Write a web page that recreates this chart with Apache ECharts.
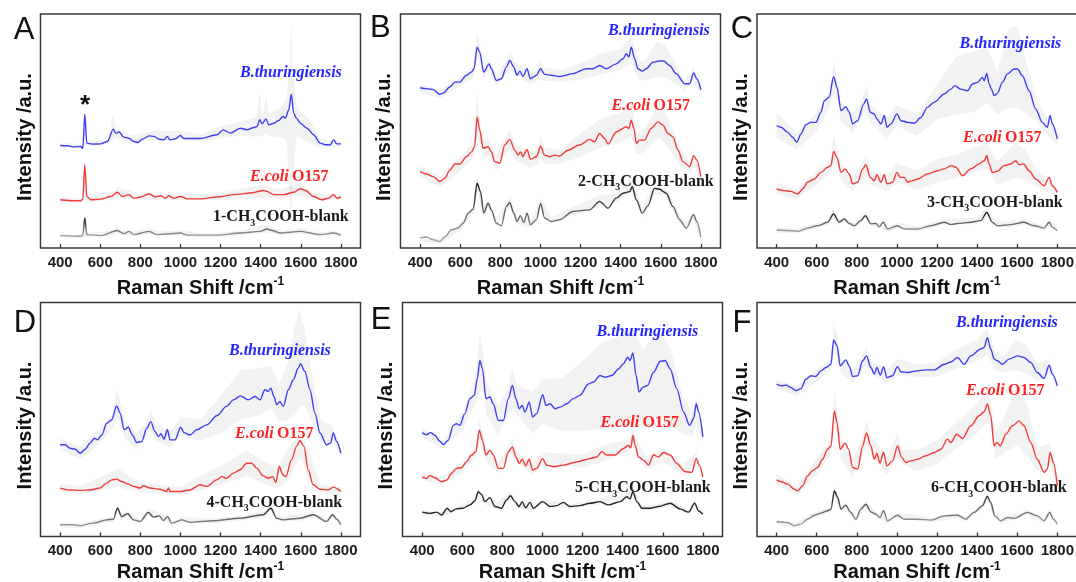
<!DOCTYPE html>
<html>
<head>
<meta charset="utf-8">
<script src="https://cdn.jsdelivr.net/npm/echarts@6/dist/echarts.min.js"></script>
<style>
html,body{margin:0;padding:0;background:#fff;}
#main{width:1076px;height:582px;}
</style>
</head>
<body>
<div id="main"></div>
<script>
// x tick labels (Raman shift, cm-1)
var ramanTicks=[400,600,800,1000,1200,1400,1600,1800];
var panelNames=['A','B','C','D','E','F'];
var blankNames=['1','2','3','4','5','6'];

// ---- panel A ----
var bluA=[[400,43.8],[436,43.7],[470,43.2],[503,43.4],[513,42.5],[523,57.2],[533,44.8],[561,44.4],[602,44.5],[636,45.5],[665,50.8],[677,49.1],[694,49.6],[718,47.4],[743,46.9],[768,45.5],[788,45.1],[810,46.5],[843,47.9],[868,47.7],[893,46.5],[918,46.2],[934,47.7],[947,46.2],[976,46.7],[1000,48.1],[1017,46.8],[1100,46.8],[1183,48.4],[1213,50.5],[1249,49.1],[1299,51.2],[1332,50.5],[1366,51.5],[1382,51.9],[1395,54.8],[1407,53.1],[1427,55.2],[1440,52.6],[1465,53.3],[1490,54.5],[1512,56.2],[1523,55.5],[1540,59.0],[1553,65.7],[1565,57.6],[1578,55.5],[1598,53.3],[1631,51.2],[1664,48.4],[1697,44.8],[1722,44.1],[1747,44.1],[1764,46.2],[1780,44.5],[1800,44.5]];
var redA=[[400,20.6],[470,20.2],[503,20.2],[513,20.9],[523,35.6],[533,22],[553,20.6],[602,20.9],[652,22],[685,23.8],[710,22],[743,22.8],[768,21.3],[801,21.8],[843,23.2],[876,21.8],[901,22.3],[926,21.3],[942,22.3],[967,21.2],[1000,22],[1034,21],[1100,21],[1183,21.8],[1266,22.8],[1349,23.5],[1415,24.6],[1432,24.2],[1465,22.8],[1515,22.8],[1565,23.8],[1598,25.3],[1623,24.6],[1664,22],[1705,20.6],[1739,21.3],[1764,22.8],[1780,21.3],[1800,21.8]];
var blkA=[[400,5.3],[503,5],[513,5.6],[523,12.8],[533,5.7],[602,5.3],[685,7.5],[718,6.1],[743,7.1],[768,5.7],[843,7.1],[884,5.7],[934,6],[1000,6.4],[1034,5.5],[1183,5.5],[1299,6.4],[1399,7.1],[1432,8.1],[1457,7.5],[1498,6.4],[1598,7.1],[1697,5.7],[1764,6.4],[1800,5.5]];
var bluBandA=[[400,42.8,44.8],[510,42.5,44.5],[523,44,58.5],[535,43.5,45.5],[640,44.5,46.5],[662,46,57],[680,47,51],[760,44.5,48],[860,46,50],[1000,46,50],[1100,45.5,48.5],[1200,47,52],[1300,48,54],[1380,47.5,56],[1395,48,67],[1410,48,56],[1427,49,65],[1440,48,57],[1500,47,60],[1530,46,64],[1545,20,80],[1553,7,98],[1560,30,75],[1580,48,60],[1640,45,55],[1700,43,46.5],[1800,43.5,45.5]];
var redBandA=[[400,19.6,21.6],[510,19.3,21.3],[523,21,37],[535,20,23],[660,20.5,24],[690,21.5,26],[800,20.5,23],[1000,20.5,23],[1200,20.5,23.5],[1400,21.5,27],[1440,21.5,26],[1500,21,25],[1600,22.5,28],[1660,20.5,23.5],[1800,20.5,22.8]];
var blkBandA=[[400,4.5,6],[510,4.2,5.8],[518,4.5,7],[523,5,13.5],[530,4.7,7],[540,4.7,6.5],[660,5.3,7.2],[685,6.3,9],[720,5.2,7.2],[760,5,7],[843,6,8.5],[900,5,7],[1000,5.3,7.5],[1100,4.6,6.4],[1200,4.6,6.4],[1300,5.3,7.5],[1430,6.5,10],[1500,5.5,7.5],[1600,6,8.3],[1700,4.8,6.6],[1764,5.4,7.3],[1800,4.6,6.4]];

// ---- panel B ----
var bluB=[[400,68.5],[432,68.1],[465,67.7],[498,65.7],[515,66.2],[548,68.8],[573,70.9],[598,70.9],[631,73.8],[656,75.2],[669,76.6],[684,85.8],[697,83.7],[717,75.2],[744,78.7],[755,76.6],[780,71.6],[805,72.3],[830,77.3],[847,80.1],[867,77.3],[883,73.8],[897,75.6],[913,73.3],[933,76.6],[950,72.3],[963,73],[980,73.8],[1001,76.6],[1021,74.2],[1054,73.8],[1096,73.3],[1162,74.5],[1229,76.6],[1262,76.6],[1295,78],[1329,76.6],[1378,78.7],[1412,80.9],[1428,83],[1441,81.6],[1453,85.8],[1470,80.9],[1486,76.6],[1508,75.6],[1528,76.6],[1561,79.4],[1594,79.9],[1614,79.9],[1644,78],[1677,74.5],[1719,70.2],[1744,70.2],[1764,74.8],[1780,72.3],[1800,67.7]];
var redB=[[400,32.6],[432,31.6],[465,30.5],[498,28.4],[523,29.8],[548,33.3],[573,35.9],[598,35.9],[631,39],[656,41.1],[672,43.3],[684,56],[697,50.4],[714,42.6],[739,43.3],[755,41.1],[772,36.9],[797,36.2],[822,44],[847,46.4],[872,41.8],[889,39.7],[900,41.1],[913,39],[933,42.1],[950,37.9],[980,39],[1001,43.5],[1021,39.7],[1046,39],[1071,39.7],[1096,39.3],[1137,41.8],[1195,44],[1245,46.4],[1270,45.4],[1295,48.9],[1320,46.8],[1337,44.4],[1378,49.6],[1428,51.8],[1441,51.1],[1453,54.6],[1466,51.1],[1478,44.7],[1494,46.1],[1519,46.1],[1552,51.1],[1586,53.9],[1611,52.5],[1636,48.9],[1661,47.5],[1686,41.8],[1711,36.9],[1744,34.8],[1764,39.3],[1780,37.6],[1800,30.5]];
var blkB=[[400,4.3],[432,4.7],[465,3.5],[498,2.8],[523,4.7],[556,7.8],[589,8.5],[614,10.6],[640,14.9],[665,16.6],[684,27.7],[701,24.1],[717,14.9],[739,19.1],[755,16.3],[780,10.6],[805,9.5],[830,17.7],[847,19.4],[867,14.9],[883,11.3],[900,13.8],[917,10.9],[933,14.9],[950,9.9],[980,12.1],[1001,18.9],[1021,12.8],[1054,11.3],[1096,12.1],[1162,15.6],[1245,16.3],[1295,19.9],[1337,17],[1378,21.3],[1412,23.4],[1445,24.1],[1458,26.2],[1478,20.6],[1508,14.9],[1536,18],[1569,25.5],[1594,25.1],[1627,23.4],[1661,17.7],[1694,12.1],[1727,8.5],[1764,14.2],[1780,11.3],[1800,4.7]];
var bluBandB=[[400,66.5,70],[500,64,67.5],[600,69,73],[665,73,78],[684,80,91.5],[700,80,87],[717,72.5,78],[744,76,81],[780,69,74],[830,74.5,80],[847,76,84],[870,74.5,80],[950,70,75],[985,71.5,76],[1001,73.5,80],[1020,71.5,77],[1100,71,76],[1200,72,79],[1300,74,83],[1400,76,85],[1453,79,90],[1490,72,80],[1520,71.5,80],[1580,73,88],[1620,73,87],[1680,70,78],[1720,67.5,72],[1764,72,77],[1800,65.5,69.5]];
var redBandB=[[400,30,35],[500,26,30.5],[600,33,39],[665,38.5,45],[684,48,67],[700,45,54],[717,38,46],[740,40,46],[780,33,40],[822,40,47],[847,42,51],[872,38,45],[950,34,41],[985,35.5,42],[1001,38.5,48],[1020,36,43],[1100,36,42],[1200,39,49],[1300,43,55],[1400,45,58],[1453,48,62],[1480,40,49],[1520,41,51],[1590,47,62],[1640,43,55],[1700,35,42],[1750,32,37],[1764,36,42],[1800,28,32]];
var blkBandB=[[400,3,5.5],[500,1.8,4],[600,7.5,10.5],[665,15,18.5],[684,24,31],[717,13,17],[739,17.5,21],[780,9,12.5],[847,17.5,22],[883,10,13],[950,8.5,11.5],[1001,17,21.5],[1054,10,13],[1162,14,17.5],[1295,18,22.5],[1378,19.5,23.5],[1458,24,29.5],[1508,13,17],[1569,23.5,28],[1627,21.5,25.5],[1694,10.5,14],[1727,7,10],[1764,12.5,16],[1800,3.5,6]];

// ---- panel C ----
var bluC=[[400,52.3],[422,51.6],[455,49.4],[480,47.3],[501,45.2],[521,48.7],[546,52.7],[571,53.7],[596,53.7],[621,58],[638,63],[662,64.4],[684,73.2],[701,68.7],[721,58.7],[745,60.4],[762,58],[779,53],[804,54.4],[834,61.5],[848,63.7],[867,58],[887,57.3],[900,55.1],[920,53],[937,56.6],[950,51.6],[970,53],[1000,57.3],[1020,54.4],[1053,53.7],[1086,53.3],[1119,55.8],[1152,60.1],[1186,62.3],[1236,65.8],[1269,67.9],[1289,69.4],[1318,67.9],[1352,67.2],[1377,70.1],[1402,70.8],[1426,72.9],[1435,71.5],[1448,74.6],[1460,70.1],[1471,67.9],[1485,65.1],[1501,66.1],[1526,70.8],[1551,74.4],[1584,76.5],[1601,76.5],[1626,73.6],[1659,67.2],[1692,59.4],[1725,53.7],[1750,51.6],[1764,56.6],[1775,53],[1800,46.6]];
var redC=[[400,25.2],[438,24.5],[471,24.2],[505,23.1],[530,25.2],[554,28.1],[588,29.5],[621,32.3],[654,34.5],[671,35.2],[684,41.3],[701,38.7],[721,32.3],[742,33.8],[762,31.6],[779,27.4],[804,28.1],[829,33.8],[845,35.6],[867,30.2],[887,28.8],[900,31.3],[920,28.1],[937,31.3],[950,27.4],[978,28.1],[1000,32.3],[1016,30.2],[1036,30.2],[1053,28.1],[1078,28.8],[1103,29.5],[1152,31.6],[1202,33],[1236,33.8],[1269,35.2],[1294,34.5],[1327,30.9],[1368,33.8],[1410,35.9],[1435,37.3],[1448,39.5],[1460,35.9],[1476,32.3],[1501,32.8],[1534,35.2],[1568,35.9],[1592,37.3],[1609,35.6],[1631,35.9],[1659,33],[1692,29.5],[1734,26.6],[1759,30.2],[1775,26.6],[1800,23.8]];
var blkC=[[400,7.7],[471,7.4],[505,7.1],[554,8.5],[604,9.5],[654,11],[684,14.5],[712,11],[737,12.4],[762,10.5],[787,9.5],[820,11.7],[842,13.8],[870,10.3],[895,10.5],[912,9.1],[932,11],[953,8.1],[1003,9.5],[1036,8.1],[1103,8.1],[1169,9.5],[1236,11],[1269,10],[1302,10.5],[1368,11],[1418,11.7],[1448,15.2],[1476,11],[1501,9.5],[1568,10],[1634,11],[1684,9.5],[1734,8.5],[1759,11],[1775,8.8],[1800,7.4]];
var bluBandC=[[400,47,58],[500,42,49],[600,50,58],[665,60,67],[684,66,80],[705,63,71],[720,54,62],[780,49,58],[825,56,63],[848,58,70],[870,53,61],[950,47,56],[1000,52,61],[1100,48,57],[1200,55,70],[1300,57,82],[1380,58,84],[1448,62,86],[1500,57,75],[1560,60,94],[1600,60,95],[1650,57,78],[1700,54,63],[1750,48,55],[1800,44,49]];
var redBandC=[[400,23,28],[500,21,25],[600,27,33],[665,32,37],[684,36,48],[705,34,41],[720,29,36],[780,24,30],[825,30,36],[845,32,40],[870,27,33],[950,24,31],[1000,28,36],[1100,25,33],[1200,28,38],[1300,30,40],[1448,34,45],[1500,27,37],[1590,30,45],[1640,29,42],[1700,26,33],[1800,22,25.5]];
var blkBandC=[[400,6.6,8.8],[500,6.2,8.2],[600,8.3,10.6],[660,9.8,12.2],[684,12.8,16.5],[710,9.8,12.3],[737,11,13.8],[787,8.3,10.7],[842,12.3,15.5],[880,9.2,11.6],[953,7,9.2],[1003,8.3,10.8],[1100,7,9.2],[1236,9.8,12.3],[1400,10.3,13],[1448,13.5,17.5],[1480,9.8,12.3],[1550,8.8,11.2],[1634,9.8,12.3],[1734,7.4,9.6],[1759,9.8,12.3],[1800,6.3,8.5]];

// ---- panel D ----
var bluD=[[400,39.2],[425,39.2],[450,37.7],[475,37.3],[500,35.6],[525,37.3],[549,39.9],[571,42],[586,41.3],[608,43.4],[632,48.4],[657,49.9],[682,55.8],[699,52.7],[719,45.6],[740,46.7],[760,43.4],[782,40.2],[807,40.6],[832,46.3],[852,49.1],[873,44.9],[890,42.7],[903,43.9],[918,41.6],[935,45.6],[948,41.3],[973,41.3],[1001,46.7],[1018,44.4],[1048,43.4],[1081,45.6],[1131,47.7],[1181,51.6],[1230,55.6],[1264,58.4],[1300,60.1],[1338,58.4],[1372,59.8],[1397,58.4],[1421,62.7],[1438,62],[1451,63.4],[1466,59.8],[1480,56.3],[1496,57.7],[1513,55.6],[1538,62.7],[1563,67],[1587,71.9],[1599,73.8],[1621,70.5],[1646,62.7],[1671,52.7],[1696,44.2],[1729,39.2],[1749,39.9],[1762,44.2],[1779,40.6],[1800,35.6]];
var redD=[[400,20.7],[450,19.9],[500,19.7],[549,19.9],[599,20.7],[632,22.8],[657,24.2],[682,24.5],[707,23.5],[740,22.4],[765,21.4],[799,20.7],[815,21.7],[848,20.7],[898,20.2],[932,19.2],[940,20.7],[948,19.2],[998,19.2],[1048,19.9],[1098,22.1],[1131,21.4],[1181,24.2],[1206,25.6],[1230,24.9],[1264,27.1],[1297,28.5],[1330,31.3],[1355,31.3],[1380,29.2],[1413,25.9],[1438,24.9],[1460,25.6],[1476,23.1],[1493,29.9],[1510,26.4],[1526,25.6],[1554,32.8],[1579,38.5],[1596,41],[1616,38.5],[1637,28.5],[1662,22.1],[1696,20.2],[1737,19.9],[1762,21.1],[1800,19.2]];
var blkD=[[400,5],[466,5],[500,4.6],[566,5.7],[632,7.1],[666,7.4],[686,12.1],[707,8.5],[737,9.7],[765,7.1],[799,6.4],[840,10.3],[865,8.3],[895,8.8],[915,6.8],[936,8.5],[956,5.7],[1006,7.1],[1048,6.1],[1164,6.7],[1297,7.8],[1413,9.3],[1451,12.1],[1480,7.8],[1513,7.1],[1596,7.8],[1662,9.3],[1729,6.4],[1759,9.3],[1779,7.4],[1800,5]];
var bluBandD=[[400,37,42],[500,33,38.5],[600,40,46],[660,46,52],[682,51,63],[705,48,56],[720,42,50],[780,37,44],[830,43,49],[852,45,54],[875,41,48],[950,38,45],[1000,43,51],[1100,41,50],[1200,44,60],[1300,50,71],[1400,52,72],[1451,55,73],[1490,49,65],[1540,50,75],[1570,52,90],[1595,55,97],[1620,56,88],[1650,50,72],[1700,40,50],[1760,41,47],[1800,34,38]];
var redBandD=[[400,19,22.5],[500,18,21.5],[640,20.5,27],[690,21,29],[800,19,23],[1000,17.5,21],[1100,19.5,26],[1200,22,30],[1330,26,37],[1400,23,33],[1480,20.5,29],[1540,24,38],[1596,34,44],[1640,25,37],[1700,18.5,22],[1800,17.5,21]];
var blkBandD=[[400,4,6],[500,3.6,5.6],[632,6,8.2],[666,6.3,8.6],[686,10.5,14],[707,7.4,9.7],[737,8.5,11],[799,5.4,7.4],[840,9,12],[900,7.5,10],[956,4.7,6.7],[1006,6,8.2],[1164,5.7,7.7],[1297,6.7,9],[1413,8,10.8],[1451,10.5,14],[1480,6.7,9],[1596,6.7,9.3],[1662,8,10.8],[1729,5.4,7.4],[1759,8,10.8],[1800,4,6]];

// ---- panel E ----
var bluE=[[400,44.4],[422,43.5],[442,44.4],[463,43.3],[488,40.7],[505,39.3],[530,41.1],[555,47.5],[571,48.2],[588,47.5],[613,52.5],[638,58.9],[660,60.3],[675,67.4],[688,75.2],[701,71.6],[718,58.9],[738,59.6],[755,56.7],[780,49.6],[805,49.6],[830,58.9],[850,64.5],[868,58.9],[884,54.6],[899,56],[913,53.2],[934,57.4],[951,51.1],[971,52.5],[1001,60.6],[1018,56],[1038,56.7],[1063,54.6],[1088,55.3],[1121,56.7],[1154,58.9],[1187,60.3],[1229,65.2],[1254,66],[1287,68.8],[1312,68.1],[1346,68.8],[1379,71.6],[1404,73.8],[1425,76.6],[1437,75.2],[1451,78.4],[1467,68.8],[1482,61.7],[1501,63.8],[1524,64.5],[1554,70.2],[1587,74.8],[1612,75.2],[1637,71.6],[1670,63.1],[1704,53.2],[1734,47.5],[1754,50.4],[1767,56.7],[1779,53.2],[1800,42.6]];
var redE=[[400,25.5],[422,24.8],[438,26],[463,25.1],[497,23.4],[522,24.1],[547,27],[571,29.1],[596,29.4],[621,31.9],[646,34.8],[668,36.2],[685,45.4],[701,41.1],[718,34.8],[738,36.9],[755,34.8],[780,29.1],[805,29.1],[830,36.2],[850,38.3],[868,34],[884,31.2],[899,33],[916,30.2],[934,33],[951,28.4],[971,29.1],[1001,33.3],[1021,30.5],[1055,29.8],[1104,30.5],[1171,31.9],[1237,33.3],[1271,34],[1296,36.2],[1321,34.8],[1362,34.8],[1404,37.6],[1429,39],[1441,37.9],[1451,43.3],[1462,39],[1479,34],[1504,32.6],[1529,30.5],[1554,34.8],[1579,34],[1604,35.9],[1637,34.8],[1670,31.2],[1712,27.7],[1745,27.4],[1767,33.3],[1782,30.5],[1800,25.5]];
var blkE=[[400,10.4],[438,9.9],[472,10.4],[497,9.2],[525,12.1],[542,10.6],[571,11.8],[605,12.1],[638,13.5],[663,15.2],[680,19.1],[696,18],[713,14.9],[738,16.6],[763,12.8],[796,12.1],[821,15.6],[841,17.4],[863,14.9],[883,12.8],[899,14.9],[916,12.3],[938,14.6],[954,12.1],[1001,14.9],[1038,12.8],[1071,13.2],[1104,14.6],[1138,12.8],[1187,13.2],[1237,14.2],[1287,14.9],[1329,13.5],[1387,14.9],[1421,17],[1437,16],[1451,19.1],[1471,14.9],[1496,12.1],[1537,12.1],[1579,12.8],[1637,14.2],[1687,11.8],[1729,10.4],[1759,14.2],[1779,10.9],[1800,9.5]];
var bluBandE=[[400,42.5,46],[500,37.5,41],[600,45,53],[660,56,66],[688,62,86],[705,62,78],[720,52,66],[780,43,56],[830,53,64],[850,54,72],[875,52,64],[950,44,62],[1001,48,67],[1100,45,68],[1200,45,75],[1300,46,83],[1400,47,86],[1451,48,90],[1500,46,80],[1580,47,88],[1640,47,80],[1700,44,60],[1750,43,53],[1767,48,60],[1800,40,45]];
var redBandE=[[400,24,27],[500,22,25.5],[600,27.5,32],[668,34,38.5],[685,40,50],[703,38,44],[720,32,37.5],[780,27,31.5],[830,34,38.5],[850,35,42],[870,32,36.5],[950,26.5,31],[1001,30.5,36],[1200,29.5,35],[1300,32,39],[1430,36.5,41.5],[1451,39,47],[1470,34,41],[1520,28.5,34],[1600,32,38],[1700,26,31],[1767,31,36],[1800,24,27]];
var blkBandE=[[400,9.5,11.3],[497,8.3,10.1],[571,10.8,12.8],[663,14,16.5],[680,17.5,21],[713,13.8,16],[763,11.7,13.9],[841,16,19],[883,11.7,13.9],[954,11,13.2],[1001,13.8,16],[1138,11.7,13.9],[1287,13.8,16],[1421,15.8,18.3],[1451,17.5,21],[1496,11,13.2],[1579,11.7,13.9],[1637,13,15.4],[1729,9.3,11.5],[1759,13,15.4],[1800,8.5,10.5]];

// ---- panel F ----
var bluF=[[400,65.1],[422,64.4],[447,64.7],[471,63.7],[496,62.3],[521,63.2],[546,67.2],[571,68.7],[596,68.4],[621,70.8],[646,72.2],[671,73.6],[684,84],[701,81.5],[717,72.9],[745,75.5],[762,72.9],[779,68.4],[804,68.7],[829,75.1],[848,77.2],[870,72.2],[887,69.4],[900,72.2],[917,68.9],[933,72.6],[950,67.9],[978,68.7],[1003,72.6],[1020,70.4],[1053,70.1],[1103,70.8],[1144,71.2],[1186,71.2],[1236,73.6],[1269,74.6],[1302,76.5],[1335,73.6],[1368,77.2],[1418,80.1],[1435,80.8],[1451,85],[1468,80.1],[1485,75.8],[1501,75.1],[1526,73.6],[1559,75.8],[1601,77.2],[1634,76.5],[1667,74.4],[1700,70.1],[1734,67.5],[1759,73.2],[1775,69.4],[1800,64.4]];
var redF=[[400,24.2],[422,23.4],[455,22.4],[488,20.2],[505,19.5],[530,21.7],[554,25.9],[579,28.1],[604,29.5],[629,33],[654,37.3],[671,38.7],[688,53.7],[701,48.7],[717,37.3],[742,39.9],[759,37.3],[779,29.5],[804,28.8],[829,38.7],[848,44.2],[870,38.7],[887,33],[900,35.6],[915,31.3],[933,35.9],[950,30.2],[978,32.3],[1003,38.7],[1023,33.8],[1044,31.6],[1069,32.3],[1103,33],[1144,34.5],[1186,35.9],[1219,37.3],[1252,41.6],[1269,40.2],[1298,43.7],[1327,41.9],[1368,47.3],[1410,51.6],[1435,53.3],[1451,56.6],[1468,51.6],[1485,38.7],[1498,40.2],[1515,38.7],[1543,43.7],[1576,47.3],[1609,49.4],[1634,47.3],[1667,40.2],[1700,33],[1734,27.4],[1750,28.8],[1764,35.9],[1780,31.6],[1800,21.7]];
var blkF=[[400,6.3],[455,6],[488,4.6],[521,5.3],[554,7.4],[588,9.1],[621,10],[654,11],[671,11.7],[688,19.5],[704,16.7],[721,11.7],[745,13.4],[767,10.5],[795,7.4],[820,11.7],[845,13.8],[870,10.5],[895,9.5],[915,8.1],[933,11],[953,6.7],[1003,9.1],[1036,7.4],[1103,7.4],[1169,7],[1236,8.8],[1302,9.1],[1343,7.4],[1385,10.3],[1426,13.1],[1451,17.1],[1468,14.5],[1488,8.8],[1518,6.7],[1551,8.1],[1584,7.7],[1651,10.3],[1700,8.8],[1734,6.7],[1762,10.3],[1780,7.4],[1800,5.3]];
var bluBandF=[[400,63,67],[500,60,64.5],[600,66,71],[670,71,76],[684,78,91],[703,77,86],[720,70,76],[780,65.5,71],[829,72,78],[848,73,81],[870,69.5,75],[950,65,71],[1003,69,76],[1100,68,73.5],[1200,68.5,74.5],[1300,72,80],[1400,75,84],[1451,78,89],[1490,71,79],[1530,70,77],[1590,71,84],[1640,70,82],[1700,66,74],[1760,70,76],[1800,62.5,66]];
var redBandF=[[400,22,26.5],[500,17.5,21.5],[600,26.5,33],[670,35,42],[688,46,62],[703,44,54],[720,33,42],[780,25.5,33],[829,35,43],[848,39,50],[870,35,43],[950,26.5,34],[1003,34,44],[1025,31,37],[1100,28,37],[1200,31,41],[1300,38,49],[1400,44,57],[1451,49,63],[1470,46,57],[1490,33,44],[1540,36,52],[1600,39,66],[1650,34,56],[1700,28,38],[1764,31,40],[1800,19,24]];
var blkBandF=[[400,5.3,7.3],[488,3.6,5.6],[588,8,10.2],[671,10.5,13],[688,17,22],[721,10.5,13],[745,12.2,14.6],[795,6.3,8.5],[845,12.3,15.5],[895,8.4,10.6],[953,5.6,7.8],[1003,8,10.2],[1169,5.9,8.1],[1302,8,10.2],[1343,6.3,8.5],[1426,12,14.3],[1451,15,19.5],[1488,7.7,9.9],[1518,5.6,7.8],[1651,9.2,11.4],[1734,5.6,7.8],[1762,9.2,11.4],[1800,4.3,6.3]];

var spectra=[
  [bluA,redA,blkA,bluBandA,redBandA,blkBandA],
  [bluB,redB,blkB,bluBandB,redBandB,blkBandB],
  [bluC,redC,blkC,bluBandC,redBandC,blkBandC],
  [bluD,redD,blkD,bluBandD,redBandD,blkBandD],
  [bluE,redE,blkE,bluBandE,redBandE,blkBandE],
  [bluF,redF,blkF,bluBandF,redBandF,blkBandF]
];

// layout of the six frames
var frames=[
  {left:40.5,top:14,yGap:5,xGap:28},
  {left:400.5,top:14,yGap:6,xGap:28},
  {left:757,top:14,yGap:6,xGap:28},
  {left:40.5,top:302.5,yGap:5,xGap:24},
  {left:402.5,top:302.5,yGap:6,xGap:24},
  {left:757,top:302.5,yGap:6,xGap:24}
];
// where the annotations sit (left edge, vertical middle)
var notes=[
  {bt:[240,72.7],ec:[250,176.7],bl:[213,217]},
  {bt:[608,31],ec:[611.5,106],bl:[578,181.7]},
  {bt:[959.5,44.3],ec:[963,138.3],bl:[927,202.7]},
  {bt:[229,351],ec:[235,434],bl:[206.5,502.7]},
  {bt:[596.5,332.3],ec:[600.5,422.7],bl:[575,488.3]},
  {bt:[956,323.3],ec:[966,391],bl:[931,488.3]}
];
var letterPos=[[24,29],[380.3,27],[742,27.5],[25,321.7],[381,319],[742,321.7]];

var blueLine='#4040f0', redLine='#f03c3c';
var bandFill='rgba(150,150,150,0.12)';
var sans='Liberation Sans, Arial, sans-serif';
var serif='Liberation Serif, Times New Roman, serif';

function blankColor(i){
  if(i===4) return '#262626';
  return {type:'linear',x:0,y:0,x2:0,y2:1,colorStops:[
    {offset:0,color:'#111'},{offset:0.55,color:'#666'},{offset:1,color:'#b0b0b0'}]};
}

var chart=echarts.init(document.getElementById('main'));
var grids=[],xAxes=[],yAxes=[],series=[],graphics=[];

frames.forEach(function(f,i){
  grids.push({left:f.left,top:f.top,width:320,height:234,show:true,outerBoundsMode:'none',
    containLabel:false,borderColor:'#3a3a3a',borderWidth:1.5,backgroundColor:'transparent'});
  xAxes.push({gridIndex:i,type:'value',min:302,max:1898,
    axisLine:{show:false},splitLine:{show:false},
    axisTick:{show:true,inside:true,length:4,customValues:ramanTicks,lineStyle:{color:'#333',width:1.3}},
    axisLabel:{show:true,customValues:ramanTicks,margin:7,fontSize:15,fontWeight:'bold',
      color:'#1c1c1c',fontFamily:sans,formatter:function(v){return String(v);}},
    name:'Raman Shift /cm{sup|-1}',nameLocation:'middle',nameGap:f.xGap,
    nameTextStyle:{fontSize:20,fontWeight:'bold',color:'#111',fontFamily:sans,lineHeight:24,
      rich:{sup:{fontSize:12,fontWeight:'bold',color:'#111',fontFamily:sans,lineHeight:24,verticalAlign:'top'}}}
  });
  yAxes.push({gridIndex:i,type:'value',min:0,max:100,
    axisLine:{show:false},axisTick:{show:false},axisLabel:{show:false},splitLine:{show:false},
    name:'Intensity /a.u.',nameLocation:'middle',nameGap:f.yGap,
    nameTextStyle:{fontSize:20,fontWeight:'bold',color:'#111',fontFamily:sans,padding:[0,12,0,0]}
  });

  var s=spectra[i];
  [s[3],s[4],s[5]].forEach(function(band){
    series.push({type:'custom',xAxisIndex:i,yAxisIndex:i,silent:true,z:1,clip:true,
      data:[[band[0][0],band[0][1]]],
      renderItem:function(params,api){
        var up=band.map(function(p){return api.coord([p[0],p[2]]);});
        var lo=band.slice().reverse().map(function(p){return api.coord([p[0],p[1]]);});
        return {type:'polygon',shape:{points:up.concat(lo)},style:{fill:bandFill}};
      }});
  });
  [[s[0],blueLine],[s[1],redLine],[s[2],blankColor(i)]].forEach(function(d){
    series.push({type:'line',xAxisIndex:i,yAxisIndex:i,data:d[0],symbol:'none',
      smooth:0.3,smoothMonotone:'x',
      silent:true,z:3,lineStyle:{width:1.4,color:d[1]}});
  });

  var n=notes[i];
  graphics.push({type:'text',x:n.bt[0],y:n.bt[1],z:10,style:{text:'B.thuringiensis',
    fill:'#2525ff',fontFamily:serif,fontSize:16,fontWeight:'bold',fontStyle:'italic',verticalAlign:'middle'}});
  graphics.push({type:'text',x:n.ec[0],y:n.ec[1],z:10,style:{text:'{i|E.coli} {b|O157}',
    verticalAlign:'middle',rich:{
      i:{fill:'#ff2222',fontFamily:serif,fontSize:16,fontWeight:'bold',fontStyle:'italic'},
      b:{fill:'#ff2222',fontFamily:serif,fontSize:16,fontWeight:'bold'}}}});
  graphics.push({type:'text',x:n.bl[0],y:n.bl[1],z:10,style:{
    text:'{b|'+blankNames[i]+'-CH}{s|3}{b|COOH-blank}',verticalAlign:'middle',rich:{
      b:{fill:'#1a1a1a',fontFamily:serif,fontSize:16,fontWeight:'bold',lineHeight:22},
      s:{fill:'#1a1a1a',fontFamily:serif,fontSize:10,fontWeight:'bold',lineHeight:22,verticalAlign:'bottom'}}}});
  graphics.push({type:'text',x:letterPos[i][0],y:letterPos[i][1]+1.5,z:10,style:{text:panelNames[i],
    fill:'#111',fontFamily:sans,fontSize:31,align:'center',verticalAlign:'middle'}});
});
graphics.push({type:'text',x:85,y:106,z:10,style:{text:'*',fill:'#111',fontFamily:sans,
  fontSize:26,fontWeight:'bold',align:'center',verticalAlign:'middle'}});

chart.setOption({
  animation:false,
  backgroundColor:'#fff',
  grid:grids,xAxis:xAxes,yAxis:yAxes,series:series,graphic:graphics
});
</script>
</body>
</html>
